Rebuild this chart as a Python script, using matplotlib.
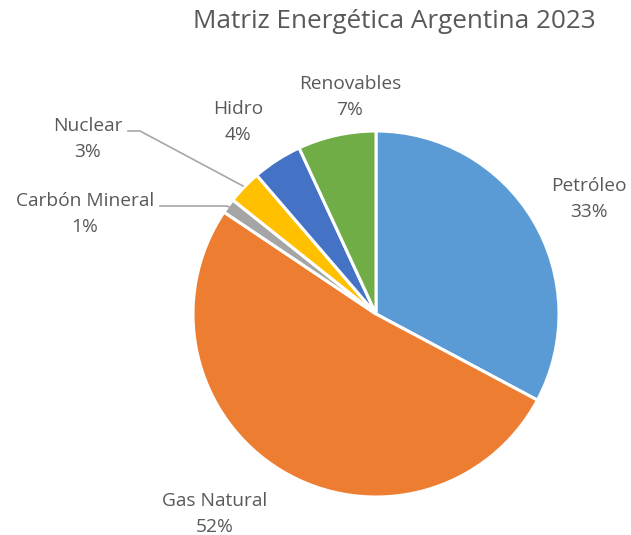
import matplotlib
matplotlib.use("Agg")
import matplotlib.pyplot as plt

# Matriz energética argentina 2023 (% del total)
fuentes = ["Petróleo", "Gas Natural", "Carbón Mineral", "Nuclear", "Hidro", "Renovables"]
valores = [32.8, 51.6, 1.3, 3.0, 4.4, 6.9]
colores = ["#5B9BD5", "#ED7D31", "#A5A5A5", "#FFC000", "#4472C4", "#70AD47"]

plt.rcParams["font.family"] = ["Open Sans", "DejaVu Sans"]
gris = "#595959"

W, H = 631, 535
cx, cy, R = 376, 314, 183  # pie centre and radius in pixels

fig = plt.figure(figsize=(W / 100, H / 100), dpi=100)
ax = fig.add_axes([(cx - R) / W, (H - cy - R) / H, 2 * R / W, 2 * R / H])

wedges, _ = ax.pie(valores, colors=colores, startangle=90, counterclock=False,
                   wedgeprops=dict(edgecolor="white", linewidth=2.2), radius=1)
ax.set_xlim(-1, 1)
ax.set_ylim(-1, 1)
ax.set_aspect("equal")
ax.axis("off")


def px(x, y):
    # pixel position -> data coords of the pie axes
    return (x - cx) / R, (cy - y) / R


# label anchor positions (pixels, centre of the two-line label)
pos_labels = [(589, 199), (215, 514), (85, 214), (88, 139), (238, 122), (350, 97)]
for nombre, v, (lx, ly) in zip(fuentes, valores, pos_labels):
    tx, ty = px(lx, ly)
    ax.text(tx, ty, f"{nombre}\n{round(v):.0f}%", ha="center", va="center",
            fontsize=13.8, color=gris, linespacing=1.6, clip_on=False)

# leader lines for the small slices
lineas = {
    "Carbón Mineral": [(160, 206), (227, 206), (229, 207)],
    "Nuclear": [(128, 131), (140, 131), (243, 186)],
}
for nombre, pts in lineas.items():
    xs, ys = zip(*[px(*p) for p in pts])
    ax.plot(xs, ys, color="#A6A6A6", linewidth=1.2, clip_on=False)

fig.text(394 / W, 1 - 21 / H, "Matriz Energética Argentina 2023", ha="center",
         va="center", fontsize=18.8, color=gris)

fig.savefig("out.png", dpi=100)
